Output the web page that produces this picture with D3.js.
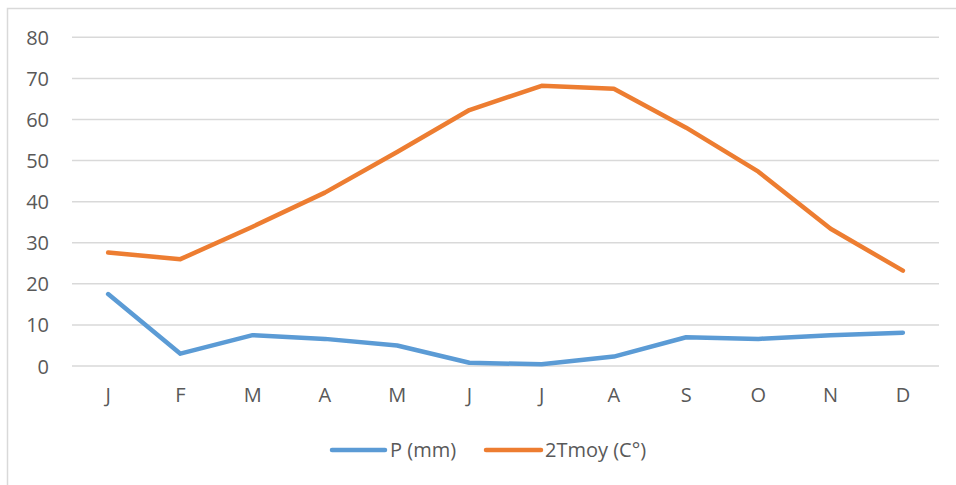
<!DOCTYPE html>
<html>
<head>
<meta charset="utf-8">
<script src="https://cdn.jsdelivr.net/npm/d3@7"></script>
<style>
  html, body { margin: 0; padding: 0; background: #fff; }
  svg { display: block; }
  text { font-family: "Open Sans", sans-serif; fill: #595959; }
</style>
</head>
<body>
<svg id="chart" width="956" height="485"></svg>
<script>
const months = ["J","F","M","A","M","J","J","A","S","O","N","D"];
const precip = [17.5, 3.0, 7.5, 6.6, 5.0, 0.8, 0.4, 2.3, 7.0, 6.6, 7.5, 8.1];
const temp2 = [27.6, 26.0, 33.9, 42.2, 52.1, 62.3, 68.2, 67.5, 58.0, 47.3, 33.4, 23.2];
const yTicks = [0, 10, 20, 30, 40, 50, 60, 70, 80];
const seriesNames = ["P (mm)", "2Tmoy (C°)"];
const seriesColors = ["#5B9BD5", "#ED7D31"];

const svg = d3.select("#chart");
const plotLeft = 72, plotRight = 939, plotTop = 37.3, plotBottom = 366;

// outer chart border
svg.append("rect").attr("x", 7.5).attr("y", 8.5).attr("width", 1000).attr("height", 1000)
  .attr("fill", "none").attr("stroke", "#d9d9d9").attr("stroke-width", 1.5);

const x = d3.scaleBand().domain(d3.range(months.length)).range([plotLeft, plotRight]);
const y = d3.scaleLinear().domain([0, 80]).range([plotBottom, plotTop]);

// gridlines
svg.append("g").selectAll("line").data(yTicks).join("line")
  .attr("x1", plotLeft).attr("x2", plotRight)
  .attr("y1", d => y(d)).attr("y2", d => y(d))
  .attr("stroke", "#d9d9d9").attr("stroke-width", 1.5);

// y axis labels
const yAxis = d3.axisLeft(y).tickValues(yTicks).tickSize(0).tickPadding(0);
const gy = svg.append("g").attr("transform", `translate(49,0)`).call(yAxis);
gy.select(".domain").remove();
gy.selectAll("text").style("font-family", '"Open Sans", sans-serif')
  .style("font-size", "20px").attr("fill", "#595959").attr("dy", "0.35em");

// x axis labels
const xAxis = d3.axisBottom(x).tickFormat(i => months[i]).tickSize(0).tickPadding(0);
const gx = svg.append("g").attr("transform", `translate(0,${plotBottom})`).call(xAxis);
gx.select(".domain").remove();
gx.selectAll("text").style("font-family", '"Open Sans", sans-serif')
  .style("font-size", "20px").attr("fill", "#595959").attr("y", 22).attr("dy", "0.71em");

const line = d3.line().x((d, i) => x(i) + x.bandwidth() / 2).y(d => y(d));

[precip, temp2].forEach((data, k) => {
  svg.append("path").datum(data)
    .attr("d", line)
    .attr("fill", "none")
    .attr("stroke", seriesColors[k])
    .attr("stroke-width", 4.5)
    .attr("stroke-linecap", "round")
    .attr("stroke-linejoin", "round");
});

// legend
const legendItems = [
  { x1: 332, x2: 385, tx: 390 },
  { x1: 486, x2: 541, tx: 545 }
];
legendItems.forEach((it, k) => {
  svg.append("line").attr("x1", it.x1).attr("x2", it.x2).attr("y1", 450).attr("y2", 450)
    .attr("stroke", seriesColors[k]).attr("stroke-width", 4.5).attr("stroke-linecap", "round");
  svg.append("text").attr("x", it.tx).attr("y", 450).attr("dy", "0.35em")
    .style("font-size", "20px").text(seriesNames[k]);
});
</script>
</body>
</html>
